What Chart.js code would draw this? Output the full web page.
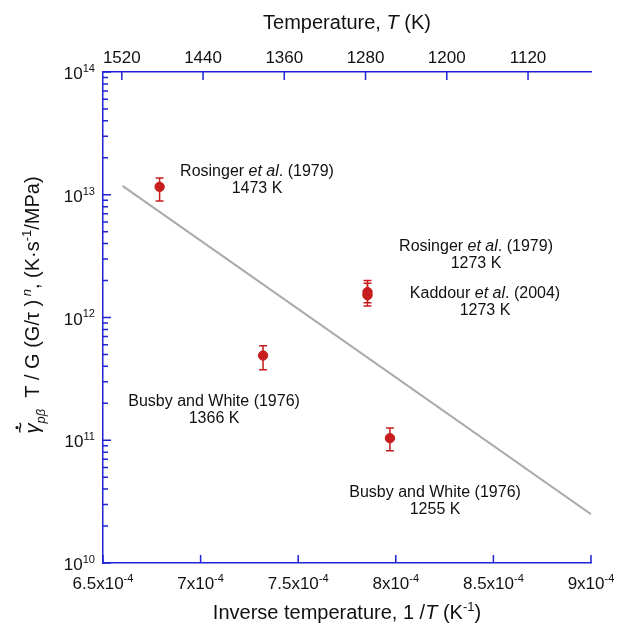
<!DOCTYPE html>
<html><head><meta charset="utf-8">
<script src="https://cdn.jsdelivr.net/npm/chart.js@4.4.0/dist/chart.umd.min.js"></script>
<style>html,body{margin:0;padding:0;background:#fff}#wrap{width:627px;height:631px}</style>
</head><body><div id="wrap"><canvas id="c" width="627" height="631"></canvas></div>
<script>
// ---- data ----
const invTemp   = [6.79e-4, 7.32e-4, 7.855e-4, 7.855e-4, 7.97e-4];
const rateVals  = [1.16e13, 4.9e11, 1.61e12, 1.52e12, 1.04e11];
const rateHigh  = [1.37e13, 5.9e11, 2.0e12, 1.90e12, 1.26e11];
const rateLow   = [8.9e12, 3.75e11, 1.32e12, 1.24e12, 8.2e10];
const fitX      = [6.6e-4, 9.0e-4];
const fitY      = [1.18e13, 2.5e10];
const bottomTicks = [6.5e-4, 7.0e-4, 7.5e-4, 8.0e-4, 8.5e-4, 9.0e-4];
const bottomTickLabels = [["6.5x10","-4"],["7x10","-4"],["7.5x10","-4"],["8x10","-4"],["8.5x10","-4"],["9x10","-4"]];
const topTempTicks = [1520, 1440, 1360, 1280, 1200, 1120];
const topTempRange = [1058, 1538.5];
const yDecades = [10, 11, 12, 13, 14];
const annotations = [
  {x: 7.289e-4, y: 1.42e13, lines: [[{t:"Rosinger "},{t:"et al",it:1},{t:". (1979)"}],[{t:"1473 K"}]]},
  {x: 8.411e-4, y: 3.48e12, lines: [[{t:"Rosinger "},{t:"et al",it:1},{t:". (1979)"}],[{t:"1273 K"}]]},
  {x: 8.457e-4, y: 1.44e12, lines: [[{t:"Kaddour "},{t:"et al",it:1},{t:". (2004)"}],[{t:"1273 K"}]]},
  {x: 7.069e-4, y: 1.90e11, lines: [[{t:"Busby and White (1976)"}],[{t:"1366 K"}]]},
  {x: 8.201e-4, y: 3.45e10, lines: [[{t:"Busby and White (1976)"}],[{t:"1255 K"}]]}
];

const BLUE = '#2222d4';
const RED = '#c81e1e';
const FONT = '"Liberation Sans", Arial, Helvetica, sans-serif';

function measureRich(ctx, parts, size){
  let w = 0;
  for (const p of parts){
    const s = (p.sup||p.sub) ? size*0.65 : size;
    ctx.font = (p.it?'italic ':'') + s + 'px ' + FONT;
    w += ctx.measureText(p.t).width;
  }
  return w;
}
function drawRich(ctx, parts, x, y, align, size){
  const w = measureRich(ctx, parts, size);
  let cx = align==='center' ? x - w/2 : (align==='right' ? x - w : x);
  ctx.textAlign = 'left';
  for (const p of parts){
    const s = (p.sup||p.sub) ? size*0.65 : size;
    ctx.font = (p.it?'italic ':'') + s + 'px ' + FONT;
    const dy = p.sup ? -size*0.42 : (p.sub ? size*0.3 : 0);
    ctx.fillText(p.t, cx, y + dy);
    cx += ctx.measureText(p.t).width;
  }
}

const decorPlugin = {
  id: 'decor',
  afterDatasetsDraw(chart){
    const ctx = chart.ctx, xs = chart.scales.x, ys = chart.scales.y;
    ctx.save();
    ctx.strokeStyle = RED; ctx.lineWidth = 1.5;
    for (let i=0;i<invTemp.length;i++){
      const px = xs.getPixelForValue(invTemp[i]);
      const pt = ys.getPixelForValue(rateHigh[i]);
      const pb = ys.getPixelForValue(rateLow[i]);
      ctx.beginPath();
      ctx.moveTo(px, pt); ctx.lineTo(px, pb);
      ctx.moveTo(px-4, pt); ctx.lineTo(px+4, pt);
      ctx.moveTo(px-4, pb); ctx.lineTo(px+4, pb);
      ctx.stroke();
    }
    ctx.restore();
  },
  afterDraw(chart){
    const ctx = chart.ctx, xs = chart.scales.x, xt = chart.scales.x2, ys = chart.scales.y, a = chart.chartArea;
    ctx.save();
    ctx.strokeStyle = BLUE; ctx.lineWidth = 1.5;
    ctx.beginPath();
    bottomTicks.forEach(v => { const p = xs.getPixelForValue(v); ctx.moveTo(p, a.bottom); ctx.lineTo(p, a.bottom-8); });
    topTempTicks.forEach(T => { const p = xt.getPixelForValue(T); ctx.moveTo(p, a.top); ctx.lineTo(p, a.top+8); });
    yDecades.forEach(d => {
      const p = ys.getPixelForValue(Math.pow(10,d)); ctx.moveTo(a.left, p); ctx.lineTo(a.left+8, p);
      if (d < 14) for (let k=2;k<=9;k++){ const q = ys.getPixelForValue(k*Math.pow(10,d)); ctx.moveTo(a.left, q); ctx.lineTo(a.left+5, q); }
    });
    ctx.stroke();

    ctx.fillStyle = '#111';
    ctx.textBaseline = 'alphabetic';
    bottomTicks.forEach((v,i) => {
      const p = xs.getPixelForValue(v);
      drawRich(ctx, [{t:bottomTickLabels[i][0]},{t:bottomTickLabels[i][1],sup:1}], p, a.bottom+26, 'center', 17);
    });
    topTempTicks.forEach(T => {
      const p = xt.getPixelForValue(T);
      drawRich(ctx, [{t:String(T)}], p, a.top-9, 'center', 17);
    });
    yDecades.forEach(d => {
      const p = ys.getPixelForValue(Math.pow(10,d));
      drawRich(ctx, [{t:'10'},{t:String(d),sup:1}], a.left-8, p+7, 'right', 17);
    });
    drawRich(ctx, [{t:'Temperature, '},{t:'T',it:1},{t:' (K)'}], (a.left+a.right)/2, 29, 'center', 20);
    drawRich(ctx, [{t:'Inverse temperature, 1 /'},{t:'T',it:1},{t:' (K'},{t:'-1',sup:1},{t:')'}], (a.left+a.right)/2, 619, 'center', 20);
    // y title rotated
    ctx.save();
    ctx.translate(39, 305);
    ctx.rotate(-Math.PI/2);
    const yParts = [{t:'γ',it:1},{t:'pβ',it:1,sub:1},{t:'  T / G (G/τ )'},{t:' n',it:1,sup:1},{t:', (K·s'},{t:'-1',sup:1},{t:'/MPa)'}];
    const w = measureRich(ctx, yParts, 20);
    const x0 = -w/2;
    drawRich(ctx, yParts, x0, 0, 'left', 20);
    ctx.font = '20px ' + FONT;
    ctx.textAlign = 'center';
    ctx.fillText('~', x0+6, -12);
    ctx.beginPath(); ctx.arc(x0+6, -22, 1.6, 0, Math.PI*2); ctx.fill();
    ctx.restore();

    annotations.forEach(an => {
      const px = xs.getPixelForValue(an.x), py = ys.getPixelForValue(an.y);
      an.lines.forEach((ln, j) => drawRich(ctx, ln, px, py + j*17, 'center', 16));
    });
    ctx.restore();
  }
};

new Chart(document.getElementById('c'), {
  data: {
    datasets: [
      { type: 'line', data: fitX.map((x,i)=>({x, y: fitY[i]})), borderColor: '#aaaaaa', borderWidth: 2, pointRadius: 0, fill: false, order: 2 },
      { type: 'scatter', data: invTemp.map((x,i)=>({x, y: rateVals[i]})), backgroundColor: RED, borderColor: RED, pointRadius: 4.7, order: 1 }
    ]
  },
  options: {
    responsive: false, animation: false, devicePixelRatio: 1,
    layout: { padding: { left: 103, right: 36, top: 72, bottom: 68 } },
    plugins: { legend: { display: false }, tooltip: { enabled: false } },
    scales: {
      x: { type: 'linear', position: 'bottom', min: 6.5e-4, max: 9e-4,
           grid: { display: false, drawTicks: false }, ticks: { display: false },
           border: { display: true, color: BLUE, width: 1.5 } },
      x2: { type: 'linear', position: 'top', reverse: true, min: topTempRange[0], max: topTempRange[1],
           grid: { display: false, drawTicks: false }, ticks: { display: false },
           border: { display: true, color: BLUE, width: 1.5 } },
      y: { type: 'logarithmic', min: 1e10, max: 1e14,
           grid: { display: false, drawTicks: false }, ticks: { display: false },
           border: { display: true, color: BLUE, width: 1.5 } }
    }
  },
  plugins: [decorPlugin]
});
</script></body></html>
